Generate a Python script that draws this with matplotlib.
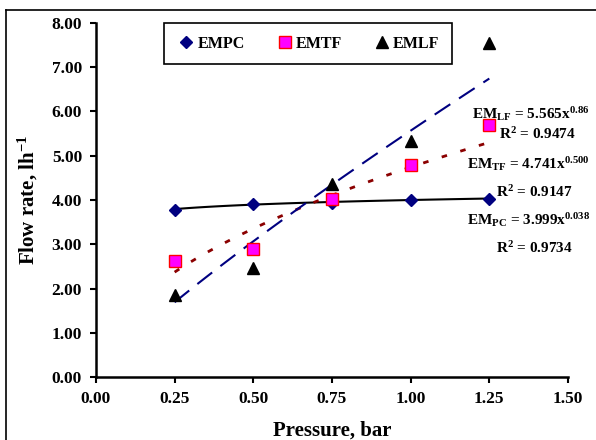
import numpy as np
import matplotlib
matplotlib.use("Agg")
import matplotlib.pyplot as plt
from matplotlib.lines import Line2D

plt.rcParams['font.family'] = 'Liberation Serif'
plt.rcParams['font.weight'] = 'bold'
plt.rcParams['mathtext.fontset'] = 'custom'
plt.rcParams['mathtext.rm'] = 'Liberation Serif:bold'
plt.rcParams['mathtext.bf'] = 'Liberation Serif:bold'
plt.rcParams['mathtext.it'] = 'Liberation Serif:bold'

# data
pressure = [0.25, 0.50, 0.75, 1.00, 1.25]
empc = [3.78, 3.90, 3.93, 3.99, 4.03]
emtf = [2.62, 2.90, 4.02, 4.78, 5.70]
emlf = [1.85, 2.47, 4.35, 5.33, 7.55]

# power trend fits (a * x^b) as printed on the chart
fit_pc = (3.999, 0.038)
fit_tf = (4.741, 0.500)
fit_lf = (5.565, 0.86)

fig = plt.figure(figsize=(5.96, 4.40), dpi=100)
ax = fig.add_axes([0.161, 0.143, 0.792, 0.805])

xs = np.linspace(0.25, 1.25, 100)
ax.plot(xs, fit_pc[0] * xs ** fit_pc[1], color='black', lw=1.5)
ax.plot(xs, fit_tf[0] * xs ** fit_tf[1], color='#8B0000', lw=2, dashes=(2, 5))
ax.plot(xs, fit_lf[0] * xs ** fit_lf[1], color='#000080', lw=1.5, dashes=(9, 5))

ax.plot(pressure, empc, ls='none', marker='D', ms=6, color='#000080', label='EMPC')
ax.plot(pressure, emtf, ls='none', marker='s', ms=8, mfc='#FF00FF', mec='#FF0000',
        mew=1, label='EMTF')
ax.plot(pressure, emlf, ls='none', marker='^', ms=8, color='black', label='EMLF')

ax.set_xlim(0, 1.5)
ax.set_ylim(0, 8)
ax.set_xticks(np.arange(0, 1.51, 0.25))
ax.set_yticks(np.arange(0, 8.01, 1))
ax.xaxis.set_major_formatter(matplotlib.ticker.FormatStrFormatter('%.2f'))
ax.yaxis.set_major_formatter(matplotlib.ticker.FormatStrFormatter('%.2f'))
ax.tick_params(labelsize=12.5, width=1.5, length=4, direction='out', pad=6)
for s in ['top', 'right']:
    ax.spines[s].set_visible(False)
for s in ['left', 'bottom']:
    ax.spines[s].set_linewidth(1.8)

ax.set_xlabel('Pressure, bar', fontsize=15, fontweight='bold', labelpad=10)
ax.set_ylabel(r'Flow rate, lh$^{-1}$', fontsize=15, fontweight='bold', labelpad=8)

leg = ax.legend(loc='upper left', bbox_to_anchor=(0.144, 1.0), ncol=3, fancybox=False,
                edgecolor='black', framealpha=1, fontsize=11.5, handletextpad=0.1,
                columnspacing=1.9, borderpad=0.8, handlelength=1.2, borderaxespad=0)
leg.get_frame().set_linewidth(1.2)

fs = 11
ax.text(1.195, 5.95, r'EM$_{LF}$ = 5.565x$^{0.86}$', fontsize=fs, va='center')
ax.text(1.280, 5.50, r'R$^{2}$ = 0.9474', fontsize=fs, va='center')
ax.text(1.180, 4.82, r'EM$_{TF}$ = 4.741x$^{0.500}$', fontsize=fs, va='center')
ax.text(1.272, 4.19, r'R$^{2}$ = 0.9147', fontsize=fs, va='center')
ax.text(1.180, 3.54, r'EM$_{PC}$ = 3.999x$^{0.038}$', fontsize=fs, va='center')
ax.text(1.272, 2.92, r'R$^{2}$ = 0.9734', fontsize=fs, va='center')

# outer chart frame (left and top edges visible)
fig.add_artist(Line2D([0.010, 0.010], [0.0, 0.977], color='black', lw=1.2,
                      transform=fig.transFigure))
fig.add_artist(Line2D([0.010, 1.0], [0.977, 0.977], color='black', lw=1.2,
                      transform=fig.transFigure))

fig.savefig('out.png', dpi=100)
